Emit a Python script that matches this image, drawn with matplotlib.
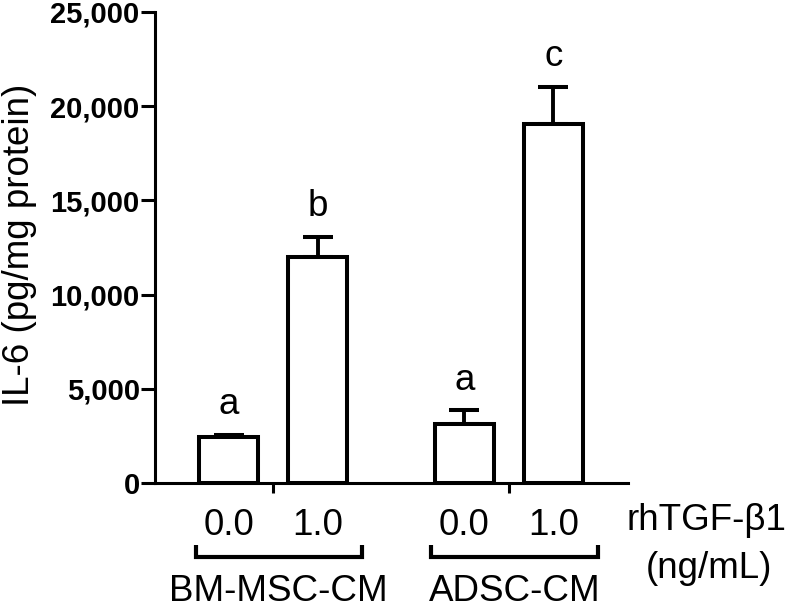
import matplotlib
matplotlib.use("Agg")
import matplotlib.pyplot as plt
from matplotlib.transforms import blended_transform_factory
import numpy as np

plt.rcParams['font.family'] = ['Liberation Sans', 'DejaVu Sans']

groups = ["BM-MSC-CM", "ADSC-CM"]
doses = ["0.0", "1.0"]
means = [2430, 11970, 3130, 19060]
errors = [110, 1110, 720, 1960]
letters = ["a", "b", "a", "c"]
yticks = [0, 5000, 10000, 15000, 20000, 25000]
ytick_labels = ["0", "5,000", "10,000", "15,000", "20,000", "25,000"]

W, H = 787, 611
fig = plt.figure(figsize=(W/100, H/100), dpi=100)
ax = fig.add_axes([155/W, 1-483/H, (628-155)/W, (483-12)/H])

FS = 26.5
pos = np.array([0, 1, 2.65, 3.65])
bw = 0.67
lw_bar = 2.9
ax.bar(pos, means, width=bw, facecolor='white', edgecolor='black', linewidth=lw_bar, zorder=2)
ax.errorbar(pos, means, yerr=[np.zeros(4), errors], fmt='none', ecolor='black',
            elinewidth=2.8, capsize=10.5, capthick=2.9, zorder=1)

for p, m, e, l in zip(pos, means, errors, letters):
    ax.annotate(l, xy=(p, m+e), xytext=(0, 15), textcoords='offset points',
                ha='center', va='baseline', fontsize=FS)

ax.set_xlim(-0.826, 4.489)
ax.set_ylim(0, 25000)
ax.set_yticks(yticks)
ax.set_yticklabels(ytick_labels, fontsize=21, fontweight='bold')
ax.tick_params(axis='y', length=10, width=2.2, pad=1)

ax.set_xticks(pos)
ax.set_xticklabels(doses*2, fontsize=FS)
ax.tick_params(axis='x', which='major', length=0, pad=18)
gcent = [(pos[0]+pos[1])/2, (pos[2]+pos[3])/2]
ax.set_xticks(gcent, minor=True)
ax.tick_params(axis='x', which='minor', length=7, width=2.2, direction='out')

for s in ['top', 'right']:
    ax.spines[s].set_visible(False)
for s in ['left', 'bottom']:
    ax.spines[s].set_linewidth(2.2)

trans = blended_transform_factory(ax.transData, ax.transAxes)
ybr = (483-557)/471
ytop = (483-545)/471
ylab = (483-609)/471
for gi, g in enumerate(groups):
    xl = pos[2*gi] - 0.37
    xr = pos[2*gi+1] + 0.5
    ax.plot([xl, xl, xr, xr], [ytop, ybr, ybr, ytop], color='black', lw=3,
            transform=trans, clip_on=False, solid_joinstyle='miter', solid_capstyle='butt')
    ax.text((xl+xr)/2, ylab, g, transform=trans, ha='center', va='bottom', fontsize=FS)

fig.text(706/W, 1-520/H, "rhTGF-β1", ha='center', va='center', fontsize=FS)
fig.text(709/W, 1-568/H, "(ng/mL)", ha='center', va='center', fontsize=FS)
fig.text(20/W, 1-245/H, "IL-6 (pg/mg protein)", rotation=90, ha='center', va='center', fontsize=FS)

fig.savefig("out.png", dpi=100)
